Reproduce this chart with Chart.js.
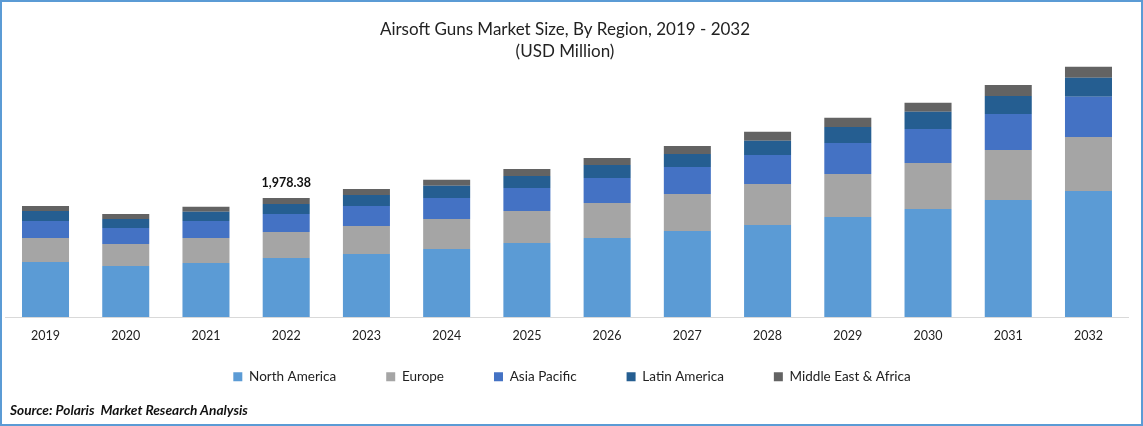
<!DOCTYPE html>
<html><head><meta charset="utf-8">
<script src="https://cdn.jsdelivr.net/npm/chart.js@4"></script>
<style>
html,body{margin:0;padding:0;background:#fff;overflow:hidden}
#frame{position:absolute;left:0;top:0;width:1143px;height:426px;box-sizing:border-box;border:2px solid #5B9BD5}
#wrap{position:absolute;left:0;top:0;width:1129px;height:426px}
#src{position:absolute;left:10px;top:401px;font:italic bold 13.7px Lato,sans-serif;color:#111;white-space:pre}
</style></head><body>
<div id="wrap"><canvas id="c"></canvas></div>
<div id="frame"></div>
<div id="src">Source: Polaris  Market Research Analysis</div>
<script>
const years=["2019","2020","2021","2022","2023","2024","2025","2026","2027","2028","2029","2030","2031","2032"];
const northAmerica=[914,848,898,981,1047,1131,1230,1313,1430,1530,1663,1796,1945,2095];
const europe=[399,366,416,432,466,499,532,582,615,682,715,765,831,898];
const asiaPacific=[283,266,283,299,333,349,382,416,449,482,515,565,599,665];
const latinAmerica=[166,150,150,166,183,200,200,216,216,233,266,283,299,316];
const middleEastAfrica=[83,83,83,100,100,100,116,116,133,150,150,150,183,183];
const titleLines=["Airsoft Guns Market Size, By Region, 2019 - 2032","(USD Million)"];
const totalLabel={year:"2022",text:"1,978.38"};
const FONT="Lato, sans-serif";
const ds=(label,data,color)=>({label,data,backgroundColor:color,borderWidth:0,barPercentage:1,categoryPercentage:0.586});
const labelPlugin={id:"totalLabel",afterDatasetsDraw(chart){
  const i=years.indexOf(totalLabel.year);
  const meta=chart.getDatasetMeta(4).data[i];
  const c=chart.ctx;c.save();
  c.font="bold 12.5px "+FONT;c.fillStyle="#111";c.textAlign="center";c.textBaseline="bottom";
  c.fillText(totalLabel.text,meta.x,meta.y-9);c.restore();
}};
// The reference legend sits well below the axis with wide gaps between items:
// keep the wide item padding but take the legend out of the vertical layout.
const legendPlace={id:"legendPlace",
  beforeLayout(chart){
    const lg=chart.legend;
    if(lg&&!lg._wrapped){const f=lg.fit.bind(lg);lg.fit=function(){f();this.height=1;};lg._wrapped=true;}
  },
  afterLayout(chart){
    const lg=chart.legend;lg.top=320;lg.bottom=396;lg.left+=5;lg.right+=5;
    const t=chart.titleBlock;t.left-=2;t.right-=2;
  }
};
new Chart(document.getElementById("c"),{
 type:"bar",
 data:{labels:years,datasets:[
  ds("North America",northAmerica,"#5B9BD5"),
  ds("Europe",europe,"#A5A5A5"),
  ds("Asia Pacific",asiaPacific,"#4472C4"),
  ds("Latin America",latinAmerica,"#255E91"),
  ds("Middle East & Africa",middleEastAfrica,"#636363")]},
 plugins:[labelPlugin,legendPlace],
 options:{responsive:true,maintainAspectRatio:false,animation:false,
  layout:{padding:{left:5.4,right:0.4,top:15,bottom:79}},
  plugins:{
   tooltip:{enabled:false},
   title:{display:true,text:titleLines,color:"#222",font:{family:FONT,size:17,weight:"normal",lineHeight:1.29},padding:{top:4,bottom:0}},
   legend:{position:"bottom",labels:{boxWidth:9,boxHeight:9,padding:50,color:"#222",font:{family:FONT,size:13.5}}}
  },
  scales:{
   x:{stacked:true,grid:{display:false},border:{color:"#D9D9D9",width:1},
      ticks:{color:"#222",font:{family:FONT,size:12.5},padding:3,maxRotation:0}},
   y:{stacked:true,display:false,min:0,max:4223}
  }}
});
</script></body></html>
